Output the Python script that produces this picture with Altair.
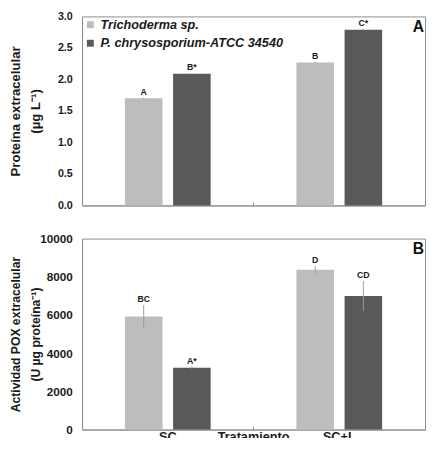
import altair as alt
import pandas as pd

treatments = ["SC", "SC+L"]
series = ["Trichoderma sp.", "P. chrysosporium-ATCC 34540"]
x_domain = ["SC", "Tratamiento", "SC+L"]
colors = ["#BDBDBD", "#595959"]

protein = [1.70, 2.09, 2.27, 2.79]
protein_err = [0.01, 0.01, 0.01, 0.01]
protein_letters = ["A", "B*", "B", "C*"]

pox = [5920, 3240, 8370, 7000]
pox_err = [600, 60, 200, 780]
pox_letters = ["BC", "A*", "D", "CD"]

rows = []
i = 0
for t in treatments:
    for s in series:
        rows.append(dict(
            trat=t, serie=s,
            prot=protein[i], prot_lo=protein[i] - protein_err[i], prot_hi=protein[i] + protein_err[i],
            prot_lab=protein_letters[i],
            pox=pox[i], pox_lo=pox[i] - pox_err[i], pox_hi=pox[i] + pox_err[i],
            pox_lab=pox_letters[i],
        ))
        i += 1
df = pd.DataFrame(rows)
mid = pd.DataFrame({"trat": ["Tratamiento"]})

FONT = "Liberation Sans"
W = 352
HA = 194
HB = 196
AXC = "#8c8c8c"
TXT = "#1a1a1a"

xscale = alt.Scale(domain=x_domain, paddingInner=0, paddingOuter=0.5)
xoff = alt.XOffset("serie:N", scale=alt.Scale(domain=series, paddingInner=0.22, paddingOuter=0))


def panel(val, lo, hi, lab, ydom, yvals, yfmt, ytitle, H, letter, xaxis, legend, lab_size, title_size):
    base = alt.Chart(df)
    yscale = alt.Scale(domain=ydom, nice=False, zero=True)
    yax = alt.Axis(values=yvals, format=yfmt, grid=False, ticks=False, labelPadding=10,
                   labelOverlap=False, labelFlush=False, labelSeparation=0,
                   labelFontSize=lab_size, labelFontWeight="bold", labelColor=TXT,
                   domainColor=AXC, title=ytitle, titleFontSize=title_size, titleFontWeight="bold",
                   titleColor=TXT, titleLineHeight=20, titleX=-61, titleY=H / 2)
    bars = base.mark_bar(strokeWidth=0).encode(
        x=alt.X("trat:N", scale=xscale, axis=xaxis, sort=x_domain),
        xOffset=xoff,
        y=alt.Y(f"{val}:Q", scale=yscale, axis=yax),
        color=alt.Color("serie:N", scale=alt.Scale(domain=series, range=colors), legend=legend),
    )
    err = base.mark_rule(color="#9a9a9a", strokeWidth=1).encode(
        x=alt.X("trat:N", scale=xscale, sort=x_domain), xOffset=xoff,
        y=alt.Y(f"{lo}:Q", axis=yax), y2=f"{hi}:Q",
    )
    txt = base.mark_text(font=FONT, fontSize=9, fontWeight="bold", color=TXT, dy=-6).encode(
        x=alt.X("trat:N", scale=xscale, sort=x_domain), xOffset=xoff,
        y=alt.Y(f"{hi}:Q", axis=yax), text=f"{lab}:N",
    )
    tick = alt.Chart(mid).mark_rule(color=AXC).encode(
        x=alt.X("trat:N", scale=xscale, sort=x_domain),
        y=alt.value(H - 3), y2=alt.value(H),
    )
    let = alt.Chart(mid).mark_text(text=letter, font=FONT, fontSize=16, fontWeight="bold",
                                   color="#111", align="right", baseline="top").encode(
        x=alt.value(W - 1), y=alt.value(3),
    )
    return alt.layer(bars, err, txt, tick, let).properties(width=W, height=H)


legA = alt.Legend(title=None, orient="none", legendX=2, legendY=2, symbolType="square",
                  symbolSize=50, symbolStrokeWidth=0, labelFont=FONT, labelFontSize=13,
                  labelFontStyle="italic", labelFontWeight="bold", labelColor=TXT,
                  rowPadding=5, labelOffset=4, labelLimit=400)

axA = alt.Axis(labels=False, ticks=False, title=None, domainColor=AXC)
axB = alt.Axis(labelAngle=0, ticks=False, title=None, domainColor=AXC, labelFont=FONT,
               labelFontSize=13, labelFontWeight="bold", labelColor=TXT, labelPadding=1)

A = panel("prot", "prot_lo", "prot_hi", "prot_lab", [0, 3], [0, 0.5, 1, 1.5, 2, 2.5, 3], ".1f",
          ["Proteína extracelular", "(µg L⁻¹)"], HA, "A", axA, legA, 11, 13.5)
B = panel("pox", "pox_lo", "pox_hi", "pox_lab", [0, 10000], [0, 2000, 4000, 6000, 8000, 10000], "d",
          ["Actividad POX extracelular", "(U µg proteína⁻¹)"], HB, "B", axB, None, 12, 12.5)

chart = alt.vconcat(A, B, spacing=21).resolve_scale(color="independent").resolve_legend(
    color="independent"
).properties(
    padding={"left": 0, "top": -4, "right": 0, "bottom": -12}
).configure(font=FONT).configure_axis(labelOverlap=False).configure_view(stroke=AXC, strokeWidth=1)

chart.save("out.html", embed_options={"renderer": "svg", "actions": False})
